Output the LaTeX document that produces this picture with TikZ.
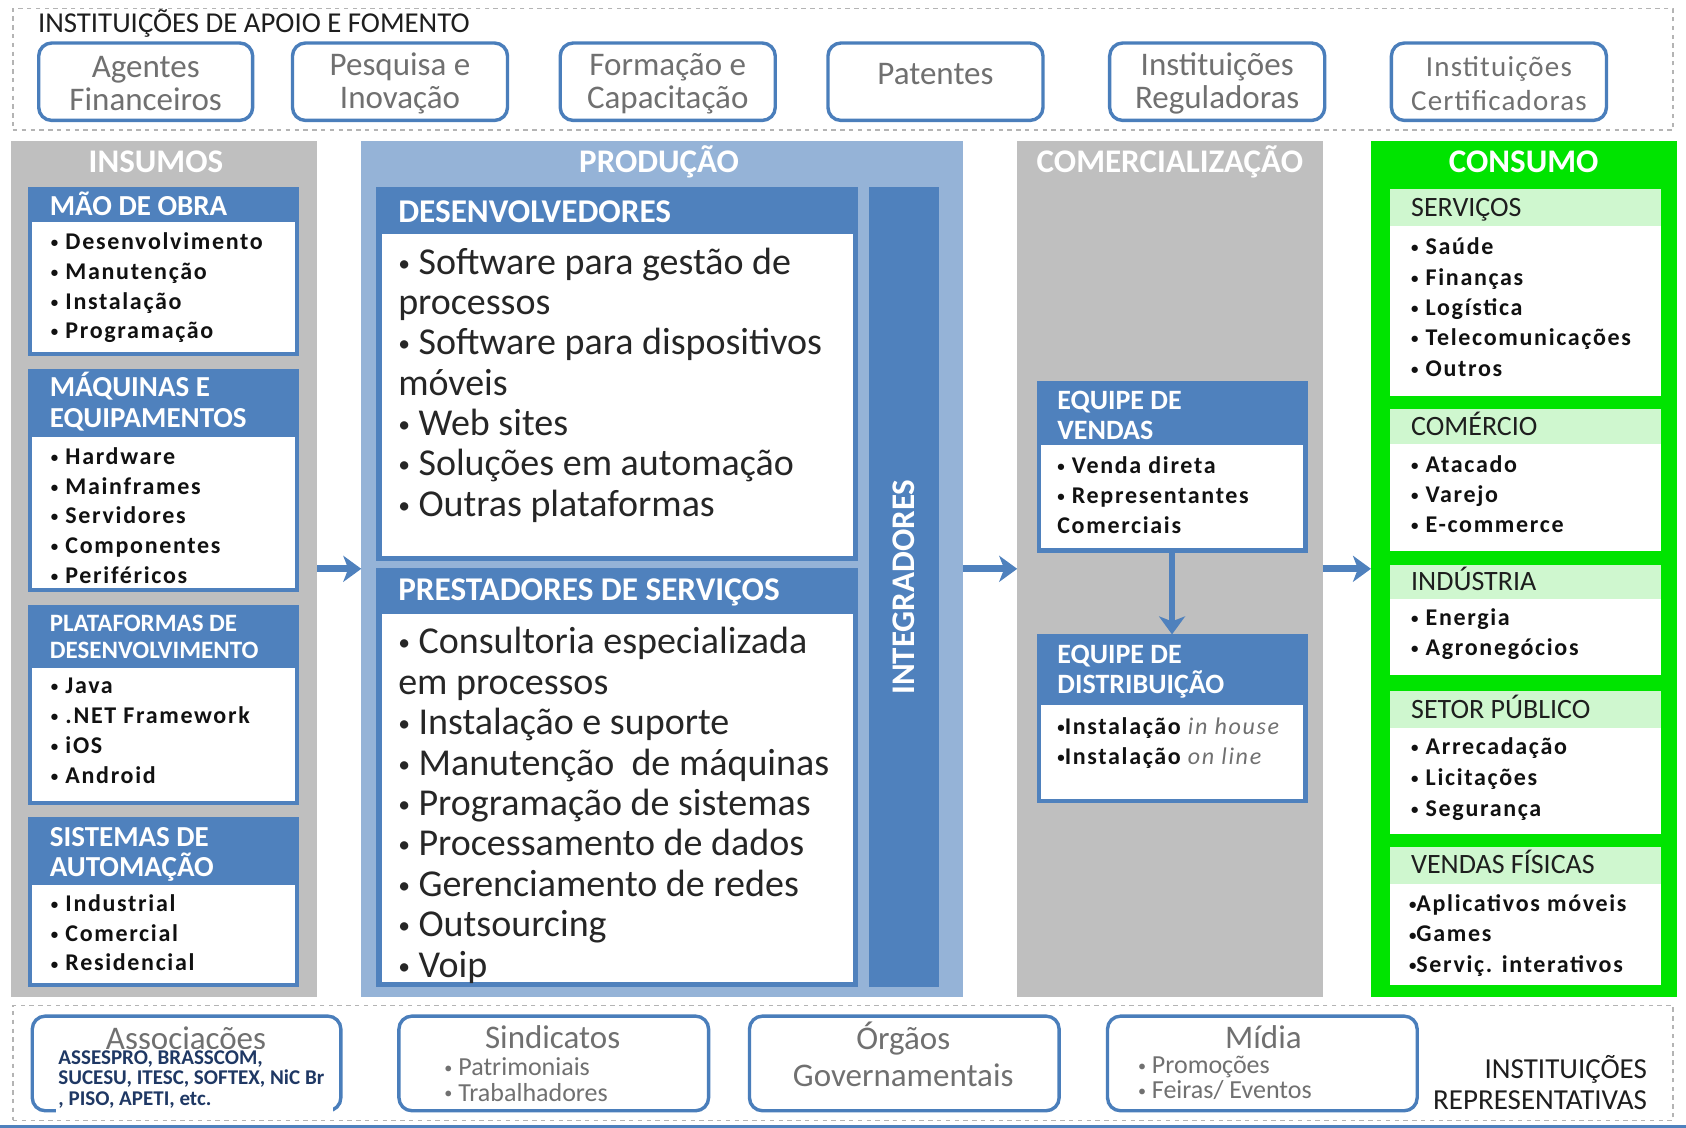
\documentclass[tikz,border=0pt]{standalone}
\usepackage{fontspec}
\usepackage{graphicx}
\setmainfont{Carlito}
\newfontfamily\spaced[LetterSpace=7.0]{Carlito}
\newfontfamily\spacedb[LetterSpace=4.0]{Carlito}
\newcommand\bul{\raisebox{0.08em}{\scalebox{0.62}{•}}}
\usetikzlibrary{fit,arrows.meta}
\definecolor{hdrblue}{HTML}{4F81BD}
\definecolor{boxblue}{HTML}{4A7EBB}
\definecolor{prodblue}{HTML}{95B3D7}
\definecolor{colgray}{HTML}{BFBFBF}
\definecolor{consgreen}{HTML}{00E400}
\definecolor{lightgreen}{HTML}{CFF7CF}
\definecolor{boxtext}{HTML}{707070}
\definecolor{dashgray}{HTML}{B4B4B4}
\definecolor{navy}{HTML}{1F3864}
\definecolor{itemdark}{HTML}{111111}
\definecolor{proddark}{HTML}{262626}
\definecolor{titledark}{HTML}{1E1E1E}
\begin{document}
\begin{tikzpicture}[x=0.5376pt,y=-0.5376pt,
  box/.style={inner sep=0pt, outer sep=0pt},
  dashframe/.style={box, draw=dashgray, dash pattern=on 2.2pt off 2.2pt, line width=0.7pt},
  topbox/.style={box, draw=boxblue, line width=1.7pt, rounded corners=6.5pt, fill=white},
  toptext/.style={inner sep=0pt, text=boxtext, align=center, font=\fontsize{16.5}{16.7}\selectfont},
  coltitle/.style={anchor=base, inner sep=0pt, text=white, font=\bfseries\fontsize{16.5}{18}\selectfont},
  hdrbox/.style={box, fill=hdrblue},
  bodybox/.style={box, fill=white},
  grnbox/.style={box, fill=lightgreen},
  hdrtext/.style={anchor=base west, inner sep=0pt, text=white, font=\bfseries\fontsize{14.5}{16}\selectfont},
  grntext/.style={anchor=base west, inner sep=0pt, text=titledark, font=\fontsize{14}{16}\selectfont},
  itemI/.style={anchor=base west, inner sep=0pt, text=itemdark, font=\spaced\bfseries\fontsize{12}{14}\selectfont},
  itemP/.style={anchor=base west, inner sep=0pt, text=proddark, font=\fontsize{19}{21}\selectfont},
  btext/.style={anchor=base, inner sep=0pt, text=boxtext, font=\fontsize{16.5}{18}\selectfont},
  bitem/.style={anchor=base west, inner sep=0pt, text=boxtext, font=\fontsize{13}{15}\selectfont},
  bigarrow/.style={draw=hdrblue, line width=3.4pt, -{Stealth[length=9pt,width=13pt,inset=2.5pt]}},
]
\useasboundingbox[fill=white] (0,0) rectangle (1568,1049);

% ---------- top frame ----------
\node[dashframe, fit={(12,8)(1556,121)}] (topframe) {};
\node[anchor=base west, inner sep=0pt, text=titledark, font=\fontsize{14.4}{16}\selectfont] (toptitle) at (35,30) {INSTITUIÇÕES DE APOIO E FOMENTO};
\node[topbox, fit={(36,40)(235,112)}] (ag) {};
\node[toptext] (ag-t) at ([yshift=-1]ag.center) {Agentes\\Financeiros};
\node[topbox, fit={(272,40)(472,112)}] (pq) {};
\node[toptext] (pq-t) at ([yshift=-1]pq.center) {Pesquisa e\\Inovação};
\node[topbox, fit={(521,40)(721,112)}] (fc) {};
\node[toptext] (fc-t) at ([yshift=-1]fc.center) {Formação e\\Capacitação};
\node[topbox, fit={(770,40)(970,112)}] (pt) {};
\node[toptext] (pt-t) at (870,69) {Patentes};
\node[topbox, fit={(1032,40)(1232,112)}] (ir) {};
\node[toptext] (ir-t) at ([yshift=-1]ir.center) {Instituições\\Reguladoras};
\node[topbox, fit={(1294,40)(1494,112)}] (ic) {};
\node[toptext, font=\spacedb\fontsize{14.5}{16.7}\selectfont] (ic-t) at ([yshift=-1]ic.center) {Instituições\\Certificadoras};

% ---------- INSUMOS ----------
\node[box, fill=colgray, fit={(10,131)(295,927)}] (insumos) {};
\node[coltitle] (insumos-t) at (145,160) {INSUMOS};

\node[hdrbox, fit={(26,174)(278,331)}] (mo) {};
\node[bodybox, fit={(30,206)(274,327)}] (mo-b) {};
\node[hdrtext] (mo-t) at (46,200) {MÃO DE OBRA};
\foreach \t [count=\i] in {Desenvolvimento, Manutenção, Instalação, Programação}
  \node[itemI] (mo\i) at (47,{232+27.7*(\i-1)}) {\bul\ \t};

\node[hdrbox, fit={(26,343)(278,551)}] (mq) {};
\node[bodybox, fit={(30,406)(274,547)}] (mq-b) {};
\node[hdrtext] (mq-t1) at (46,369) {MÁQUINAS E};
\node[hdrtext] (mq-t2) at (46,398) {EQUIPAMENTOS};
\foreach \t [count=\i] in {Hardware, Mainframes, Servidores, Componentes, Periféricos}
  \node[itemI] (mq\i) at (47,{432+27.6*(\i-1)}) {\bul\ \t};

\node[hdrbox, fit={(26,563)(278,749)}] (pl) {};
\node[bodybox, fit={(30,621)(274,745)}] (pl-b) {};
\node[hdrtext, font=\bfseries\fontsize{12.5}{14}\selectfont] (pl-t1) at (46,587.5) {PLATAFORMAS DE};
\node[hdrtext, font=\bfseries\fontsize{12.5}{14}\selectfont] (pl-t2) at (46,612.5) {DESENVOLVIMENTO};
\foreach \t [count=\i] in {Java, .NET Framework, iOS, Android}
  \node[itemI] (pl\i) at (47,{645+28*(\i-1)}) {\bul\ \t};

\node[hdrbox, fit={(26,760)(278,918)}] (sa) {};
\node[bodybox, fit={(30,823)(274,914)}] (sa-b) {};
\node[hdrtext] (sa-t1) at (46,787) {SISTEMAS DE};
\node[hdrtext] (sa-t2) at (46,815) {AUTOMAÇÃO};
\foreach \t [count=\i] in {Industrial, Comercial, Residencial}
  \node[itemI] (sa\i) at (47,{848+27.5*(\i-1)}) {\bul\ \t};

% ---------- PRODUCAO ----------
\node[box, fill=prodblue, fit={(336,131)(896,927)}] (producao) {};
\node[coltitle] (producao-t) at (613,160) {PRODUÇÃO};

\node[hdrbox, fit={(350,174)(798,522)}] (dv) {};
\node[bodybox, fit={(355,218)(793,517)}] (dv-b) {};
\node[hdrtext, font=\bfseries\fontsize{16.6}{18}\selectfont] (dv-t) at (370,206.5) {DESENVOLVEDORES};
\foreach \t [count=\i] in {{\bul\ Software para gestão de}, processos, {\bul\ Software para dispositivos}, móveis, {\bul\ Web sites}, {\bul\ Soluções em automação}, {\bul\ Outras plataformas}}
  \node[itemP] (dv\i) at (370,{255+37.5*(\i-1)}) {\t};

\node[hdrbox, fit={(350,528)(798,918)}] (ps) {};
\node[bodybox, fit={(355,571)(793,913)}] (ps-b) {};
\node[hdrtext, font=\bfseries\fontsize{16.6}{18}\selectfont] (ps-t) at (370,558.5) {PRESTADORES DE SERVIÇOS};
\foreach \t [count=\i] in {{\bul\ Consultoria especializada}, em processos, {\bul\ Instalação e suporte}, {\bul\ Manutenção\ \ de máquinas}, {\bul\ Programação de sistemas}, {\bul\ Processamento de dados}, {\bul\ Gerenciamento de redes}, {\bul\ Outsourcing}, {\bul\ Voip}}
  \node[itemP] (ps\i) at (370,{608+37.6*(\i-1)}) {\t};

\node[hdrbox, fit={(808,174)(873,918)}] (integ) {};
\node[rotate=90, inner sep=0pt, text=white, font=\bfseries\fontsize{16.5}{18}\selectfont] (integ-t) at (integ.center) {INTEGRADORES};

% ---------- COMERCIALIZACAO ----------
\node[box, fill=colgray, fit={(946,131)(1230,927)}] (comerc) {};
\node[coltitle] (comerc-t) at (1088,160) {COMERCIALIZAÇÃO};

\node[hdrbox, fit={(964,354)(1216,514)}] (vendas) {};
\node[bodybox, fit={(968,414)(1212,510)}] (vendas-b) {};
\node[hdrtext, font=\bfseries\fontsize{14}{16}\selectfont] (vendas-t1) at (983,380.5) {EQUIPE DE};
\node[hdrtext, font=\bfseries\fontsize{14}{16}\selectfont] (vendas-t2) at (983,408.5) {VENDAS};
\node[itemI] (vendas1) at (983,440) {\bul\ Venda direta};
\node[itemI] (vendas2) at (983,468) {\bul\ Representantes};
\node[itemI] (vendas3) at (983,496) {Comerciais};

\node[hdrbox, fit={(964,590)(1216,747)}] (distrib) {};
\node[bodybox, fit={(968,656)(1212,743)}] (distrib-b) {};
\node[hdrtext, font=\bfseries\fontsize{14}{16}\selectfont] (distrib-t1) at (983,617.5) {EQUIPE DE};
\node[hdrtext, font=\bfseries\fontsize{14}{16}\selectfont] (distrib-t2) at (983,644.5) {DISTRIBUIÇÃO};
\node[itemI] (distrib1) at (983,683) {\bul Instalação {\mdseries\itshape\color{boxtext} in house}};
\node[itemI] (distrib2) at (983,711) {\bul Instalação {\mdseries\itshape\color{boxtext} on line}};

\draw[draw=hdrblue, line width=2.6pt, -{Stealth[length=9pt,width=13pt,inset=2.5pt]}] (vendas.south) -- (distrib.north);

% ---------- CONSUMO ----------
\node[box, fill=consgreen, fit={(1275,131)(1560,927)}] (consumo) {};
\node[coltitle] (consumo-t) at (1417,160) {CONSUMO};

\node[grnbox, fit={(1293,176)(1545,368)}] (sv) {};
\node[bodybox, fit={(1293,210)(1545,368)}] (sv-b) {};
\node[grntext] (sv-t) at (1312,201) {SERVIÇOS};
\foreach \t [count=\i] in {Saúde, Finanças, Logística, Telecomunicações, Outros}
  \node[itemI] (sv\i) at (1312,{237+28.2*(\i-1)}) {\bul\ \t};

\node[grnbox, fit={(1293,380)(1545,512)}] (cm) {};
\node[bodybox, fit={(1293,413)(1545,512)}] (cm-b) {};
\node[grntext] (cm-t) at (1312,405) {COMÉRCIO};
\foreach \t [count=\i] in {Atacado, Varejo, E-commerce}
  \node[itemI] (cm\i) at (1312,{439+28*(\i-1)}) {\bul\ \t};

\node[grnbox, fit={(1293,525)(1545,628)}] (in) {};
\node[bodybox, fit={(1293,557)(1545,628)}] (in-b) {};
\node[grntext] (in-t) at (1312,549) {INDÚSTRIA};
\foreach \t [count=\i] in {Energia, Agronegócios}
  \node[itemI] (in\i) at (1312,{582+28*(\i-1)}) {\bul\ \t};

\node[grnbox, fit={(1293,643)(1545,776)}] (sp) {};
\node[bodybox, fit={(1293,677)(1545,776)}] (sp-b) {};
\node[grntext] (sp-t) at (1312,668) {SETOR PÚBLICO};
\foreach \t [count=\i] in {Arrecadação, Licitações, Segurança}
  \node[itemI] (sp\i) at (1312,{702+28.5*(\i-1)}) {\bul\ \t};

\node[grnbox, fit={(1293,788)(1545,916)}] (vf) {};
\node[bodybox, fit={(1293,822)(1545,916)}] (vf-b) {};
\node[grntext] (vf-t) at (1312,812) {VENDAS FÍSICAS};
\foreach \t [count=\i] in {Aplicativos móveis, Games, Serviç. interativos}
  \node[itemI] (vf\i) at (1310,{848+28*(\i-1)}) {\bul\t};

% ---------- flow arrows ----------
\draw[bigarrow] (insumos.east) -- (producao.west);
\draw[bigarrow] (producao.east) -- (comerc.west);
\draw[bigarrow] (comerc.east) -- (consumo.west);

% ---------- bottom frame ----------
\node[dashframe, fit={(12,935)(1556,1042)}] (botframe) {};
\draw[hdrblue, line width=1.2pt] (0,1047.5) -- (1568,1047.5);

\node[topbox, fit={(30,945)(317,1033)}] (assoc) {};
\node[btext] (assoc-t) at (173,976) {Associações};
\node[box, fill=white, fit={(52,976)(310,1037)}] (assoc-w) {};
\foreach \t [count=\i] in {{ASSESPRO, BRASSCOM,}, {SUCESU, ITESC, SOFTEX, NiC Br}, {, PISO, APETI, etc.}}
  \node[anchor=base west, inner sep=0pt, text=navy, font=\bfseries\fontsize{10.5}{12}\selectfont] (assoc\i) at (54,{990+19*(\i-1)}) {\t};

\node[topbox, fit={(371,945)(659,1033)}] (sind) {};
\node[btext] (sind-t) at (514,975) {Sindicatos};
\node[bitem] (sind1) at (413,1000) {\bul\ Patrimoniais};
\node[bitem] (sind2) at (413,1024) {\bul\ Trabalhadores};

\node[topbox, fit={(697,945)(985,1033)}] (orgaos) {};
\node[btext] (orgaos-t1) at (840,976) {Órgãos};
\node[btext] (orgaos-t2) at (840,1010) {Governamentais};

\node[topbox, fit={(1030,945)(1318,1033)}] (midia) {};
\node[btext] (midia-t) at (1175,975) {Mídia};
\node[bitem] (midia1) at (1058,998) {\bul\ Promoções};
\node[bitem] (midia2) at (1058,1022) {\bul\ Feiras/ Eventos};

\node[anchor=base east, inner sep=0pt, text=titledark, font=\fontsize{14.5}{16}\selectfont] (rep1) at (1532,1003) {INSTITUIÇÕES};
\node[anchor=base east, inner sep=0pt, text=titledark, font=\fontsize{14.5}{16}\selectfont] (rep2) at (1532,1032) {REPRESENTATIVAS};
\end{tikzpicture}
\end{document}
